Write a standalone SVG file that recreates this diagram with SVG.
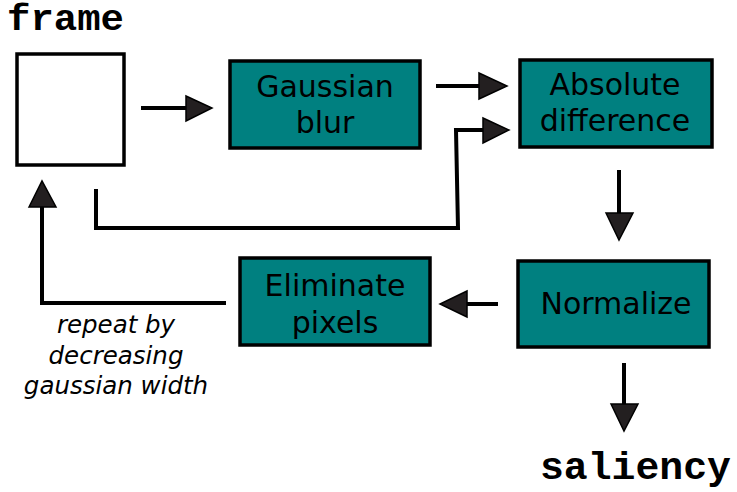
<svg xmlns="http://www.w3.org/2000/svg" width="737" height="492" viewBox="0 0 737 492">
<style>
.box{fill:#008080;stroke:#000;stroke-width:3.5}
.frame{fill:#fff;stroke:#000;stroke-width:3.5}
.lbl{font-family:"DejaVu Sans",sans-serif;font-size:30px;fill:#000;text-anchor:middle}
.it{font-family:"DejaVu Sans",sans-serif;font-style:oblique;font-size:24.5px;fill:#000;text-anchor:middle}
.mono{font-family:"Liberation Mono","Courier New",monospace;font-weight:bold;font-size:39px;fill:#000}
.ln{fill:none;stroke:#000;stroke-width:4}
.ah{fill:#231f20;stroke:#000;stroke-width:1.5;stroke-linejoin:miter}
</style>
<rect width="737" height="492" fill="#fff"/>
<g id="frame">
<text class="mono" x="7" y="30" style="font-size:36px" textLength="117" lengthAdjust="spacingAndGlyphs">frame</text>
<rect class="frame" x="17" y="54" width="107" height="111"/>
</g>
<g id="gaussian">
<rect class="box" x="230" y="61" width="190" height="87"/>
<text class="lbl" x="325" y="97">Gaussian</text>
<text class="lbl" x="325" y="133">blur</text>
</g>
<g id="absdiff">
<rect class="box" x="520" y="60" width="192" height="87"/>
<text class="lbl" x="615" y="95">Absolute</text>
<text class="lbl" x="615" y="131">difference</text>
</g>
<g id="normalize">
<rect class="box" x="518" y="261" width="191" height="86"/>
<text class="lbl" x="616" y="314">Normalize</text>
</g>
<g id="eliminate">
<rect class="box" x="240" y="258" width="190" height="87"/>
<text class="lbl" x="335" y="296">Eliminate</text>
<text class="lbl" x="335" y="333">pixels</text>
</g>
<g id="saliency">
<text class="mono" x="540" y="479" textLength="191" lengthAdjust="spacingAndGlyphs">saliency</text>
</g>
<g id="note">
<text class="it" x="116" y="333">repeat by</text>
<text class="it" x="116" y="364">decreasing</text>
<text class="it" x="116" y="394">gaussian width</text>
</g>
<g id="connectors">
<path class="ln" d="M141,108 H190"/>
<polygon class="ah" points="186,96 212,108 186,121"/>
<path class="ln" d="M436,86 H482"/>
<polygon class="ah" points="479,73 507,86 479,99"/>
<path class="ln" d="M96,189 V228 H458 L456,130 H486"/>
<polygon class="ah" points="483,118 509,130 483,143"/>
<path class="ln" d="M619,170 V216"/>
<polygon class="ah" points="606,213 619,240 633,213"/>
<path class="ln" d="M624,363 V408"/>
<polygon class="ah" points="611,404 624,431 638,404"/>
<path class="ln" d="M498,304 H464"/>
<polygon class="ah" points="467,291 440,304 467,317"/>
<path class="ln" d="M226,303 H42 V204"/>
<polygon class="ah" points="29,207 42,181 56,207"/>
</g>
</svg>
